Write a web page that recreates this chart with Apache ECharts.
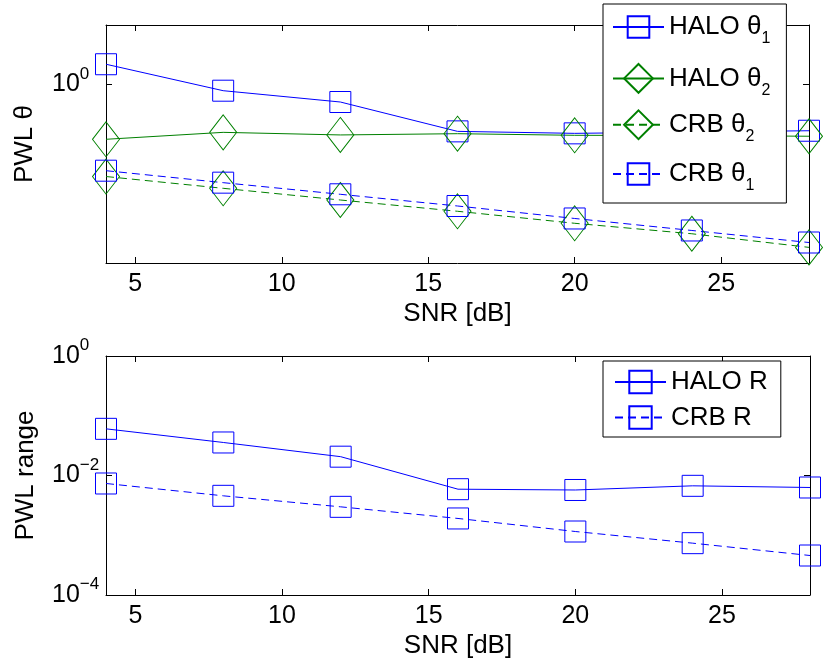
<!DOCTYPE html>
<html><head><meta charset="utf-8">
<script src="https://cdn.jsdelivr.net/npm/echarts@6/dist/echarts.min.js"></script>
<style>html,body{margin:0;padding:0;background:#fff}#c{width:826px;height:664px}</style>
</head><body><div id="c"></div>
<script>
// ---- data ----
const snr = [4, 8, 12, 16, 20, 24, 28];
const haloTheta1 = [2.19, 0.787, 0.508, 0.163, 0.151, 0.159, 0.167];
const haloTheta2 = [0.120, 0.157, 0.142, 0.149, 0.140, 0.139, 0.135];
const crbTheta2 = [0.0284, 0.0180, 0.01145, 0.0074, 0.00465, 0.0031, 0.00183];
const crbTheta1 = [0.0356, 0.0224, 0.01428, 0.00908, 0.0056, 0.00352, 0.00221];
const haloR = [0.0604, 0.0357, 0.02065, 0.0059, 0.00572, 0.00672, 0.0063];
const crbR = [0.00735, 0.00457, 0.00299, 0.00191, 0.001155, 0.000737, 0.000458];
const topNames = ['HALO θ1', 'HALO θ2', 'CRB θ2', 'CRB θ1'];
const bottomNames = ['HALO R', 'CRB R'];
const xLabel = 'SNR [dB]';
const yLabelTop = 'PWL θ';
const yLabelBottom = 'PWL range';
const xRange = [4, 28];
const yRangeTop = [1e-3, 10];
const yRangeBottom = [1e-4, 1];

// ---- styling ----
const FONT = 'Liberation Sans, Arial, Helvetica, sans-serif';
const BLUE = '#0000ff', GREEN = '#008000';
const pairs = (ys) => snr.map((x, i) => [x, ys[i]]);

function powLabel(v) {
  const e = Math.round(Math.log10(v));
  const s = e < 0 ? '\u2212' + (-e) : String(e);
  return '{b|10}{s|' + s + '}';
}
const yRich = {
  b: { fontSize: 25, lineHeight: 38, fontFamily: FONT, color: '#000' },
  s: { fontSize: 17, lineHeight: 17, verticalAlign: 'top', fontFamily: FONT, color: '#000' }
};

function xAxes(gridIndex) {
  const base = {
    type: 'value', gridIndex, min: xRange[0], max: xRange[1], splitNumber: 5,
    axisLine: { show: true, onZero: false, lineStyle: { color: '#000', width: 1 } },
    axisTick: { show: true, inside: true, length: 6, lineStyle: { color: '#000' } },
    splitLine: { show: false }
  };
  return [
    Object.assign({}, base, {
      position: 'bottom',
      axisLabel: { show: true, margin: 9, fontSize: 25, fontFamily: FONT, color: '#000', showMinLabel: false, showMaxLabel: false },
      name: xLabel, nameLocation: 'middle', nameGap: 38,
      nameTextStyle: { fontSize: 26, fontFamily: FONT, color: '#000' }
    }),
    Object.assign({}, base, { position: 'top', axisLabel: { show: false } })
  ];
}

function yAxes(gridIndex, range, logBase, name, onlyZero, nameGap) {
  const base = {
    type: 'log', gridIndex, min: range[0], max: range[1], logBase,
    axisLine: { show: true, onZero: false, lineStyle: { color: '#000', width: 1 } },
    axisTick: { show: true, inside: true, length: 6, lineStyle: { color: '#000' } },
    splitLine: { show: false }, minorTick: { show: false }
  };
  return [
    Object.assign({}, base, {
      position: 'left',
      axisLabel: {
        show: true, margin: 54, align: 'left',
        showMinLabel: !onlyZero, showMaxLabel: !onlyZero,
        formatter: (v) => (onlyZero && Math.abs(Math.log10(v)) > 1e-6) ? '' : powLabel(v),
        rich: yRich
      },
      name, nameLocation: 'middle', nameGap, nameRotate: 90,
      nameTextStyle: { fontSize: 26, fontFamily: FONT, color: '#000' }
    }),
    Object.assign({}, base, { position: 'right', axisLabel: { show: false } })
  ];
}

function lineSeries(name, ys, color, dashed, symbol, size, xi, yi) {
  return {
    type: 'line', name, data: pairs(ys), xAxisIndex: xi, yAxisIndex: yi,
    symbol, symbolSize: size, showAllSymbol: true,
    lineStyle: { color, width: 1, type: dashed ? [8, 5] : 'solid' },
    itemStyle: { color: 'rgba(0,0,0,0)', borderColor: color, borderWidth: 1 },
    emphasis: { disabled: true }, clip: false
  };
}

const legendRich = {
  m: { fontSize: 26, lineHeight: 31, verticalAlign: 'middle', fontFamily: FONT, color: '#000' },
  s: { fontSize: 16, lineHeight: 17, verticalAlign: 'bottom', fontFamily: FONT, color: '#000' },
  z: { fontSize: 10, lineHeight: 40, width: 0, fontFamily: FONT }
};
const subFormatter = (n) => '{m|' + n.slice(0, -1) + '}{s|' + n.slice(-1) + '}{z|}';
const legendCommon = {
  orient: 'vertical', align: 'left', itemWidth: 51, selectedMode: false,
  formatter: subFormatter, textStyle: { rich: legendRich, color: '#000' }
};

const SQ = 21, DI = [27, 35];
const option = {
  animation: false,
  backgroundColor: '#fff',
  grid: [
    { left: 106, right: 17, top: 25, height: 238, containLabel: false },
    { left: 106, right: 16, top: 356, height: 239, containLabel: false }
  ],
  xAxis: [...xAxes(0), ...xAxes(1)],
  yAxis: [
    ...yAxes(0, yRangeTop, 10000, yLabelTop, true, 68),
    ...yAxes(1, yRangeBottom, 100, yLabelBottom, false, 67)
  ],
  legend: [
    Object.assign({}, legendCommon, {
      data: [topNames[0]], left: 603, top: 4, itemHeight: 27,
      padding: [10, 16, 156, 9], backgroundColor: '#fff', borderColor: '#000', borderWidth: 1, z: 4
    }),
    Object.assign({}, legendCommon, {
      data: [topNames[1], topNames[2]], left: 612, top: 63, itemHeight: 36, itemGap: 11, padding: 0, z: 5
    }),
    Object.assign({}, legendCommon, {
      data: [topNames[3]], left: 612, top: 161, itemHeight: 27, padding: 0, z: 5
    }),
    {
      orient: 'vertical', align: 'left', itemWidth: 51, itemHeight: 28, itemGap: 5.5, selectedMode: false,
      data: bottomNames, left: 603, top: 361, padding: [6, 13, 4.5, 11],
      backgroundColor: '#fff', borderColor: '#000', borderWidth: 1,
      textStyle: { fontSize: 26, lineHeight: 30, fontFamily: FONT, color: '#000' }
    }
  ],
  series: [
    lineSeries(topNames[0], haloTheta1, BLUE, false, 'rect', SQ, 0, 0),
    lineSeries(topNames[1], haloTheta2, GREEN, false, 'diamond', DI, 0, 0),
    lineSeries(topNames[2], crbTheta2, GREEN, true, 'diamond', DI, 0, 0),
    lineSeries(topNames[3], crbTheta1, BLUE, true, 'rect', SQ, 0, 0),
    lineSeries(bottomNames[0], haloR, BLUE, false, 'rect', SQ, 2, 2),
    lineSeries(bottomNames[1], crbR, BLUE, true, 'rect', SQ, 2, 2)
  ]
};
const chart = echarts.init(document.getElementById('c'), null, { renderer: 'canvas' });
chart.setOption(option);
</script></body></html>
